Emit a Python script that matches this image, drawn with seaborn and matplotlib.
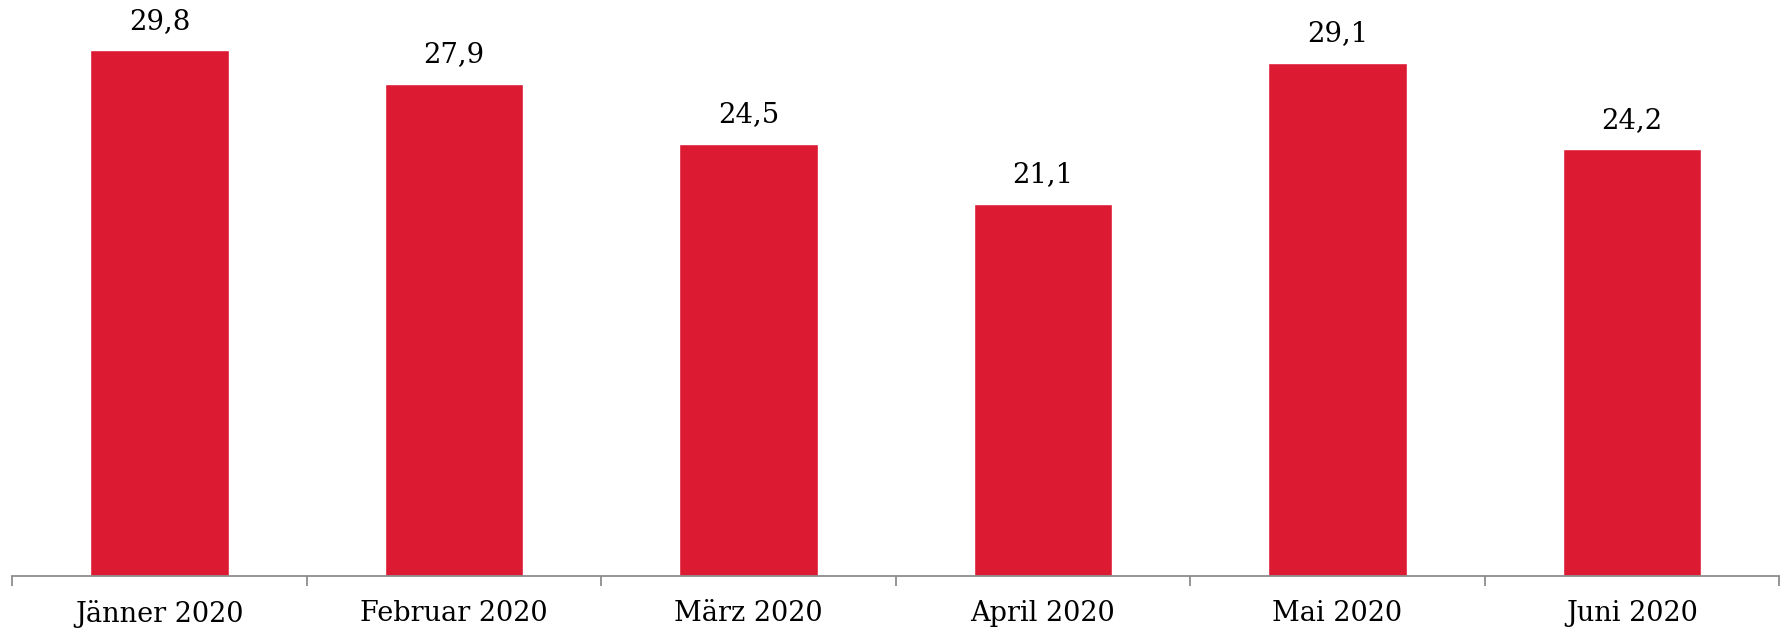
import matplotlib
matplotlib.use("Agg")
import matplotlib.pyplot as plt
import seaborn as sns
import pandas as pd
from matplotlib.ticker import FixedLocator

months = ["Jänner 2020", "Februar 2020", "März 2020", "April 2020", "Mai 2020", "Juni 2020"]
values = [29.8, 27.9, 24.5, 21.1, 29.1, 24.2]

RED = "#DC1A32"
GREY = "#8C8C8C"

sns.set_theme(style="white")
plt.rcParams["font.family"] = ["DejaVu Serif"]

df = pd.DataFrame({"month": months, "value": values})

fig = plt.figure(figsize=(17.85, 6.31), dpi=100)
ax = fig.add_axes([12.3 / 1785, 55 / 631, (1779 - 12.3) / 1785, 576 / 631])

sns.barplot(data=df, x="month", y="value", color=RED, width=0.47, saturation=1, ax=ax)

# Wertbeschriftung mit Dezimalkomma
labels = [f"{v:.1f}".replace(".", ",") for v in values]
ax.bar_label(ax.containers[0], labels=labels, padding=11, fontsize=19.8, color="black")

ax.set_xlim(-0.5, len(months) - 0.5)
ax.set_ylim(0, 32.65)
ax.set_xlabel("")
ax.set_ylabel("")
ax.set_yticks([])

for side in ["left", "right", "top"]:
    ax.spines[side].set_visible(False)
ax.spines["bottom"].set_color(GREY)
ax.spines["bottom"].set_linewidth(1.3)

# Striche an den Kategoriegrenzen
ax.xaxis.set_minor_locator(FixedLocator([i - 0.5 for i in range(len(months) + 1)]))
ax.tick_params(axis="x", which="minor", length=7.5, width=1.3, color=GREY, direction="out", bottom=True)
ax.tick_params(axis="x", which="major", length=0, pad=17, labelsize=19.5, labelcolor="black")

fig.savefig("out.png", dpi=100)
